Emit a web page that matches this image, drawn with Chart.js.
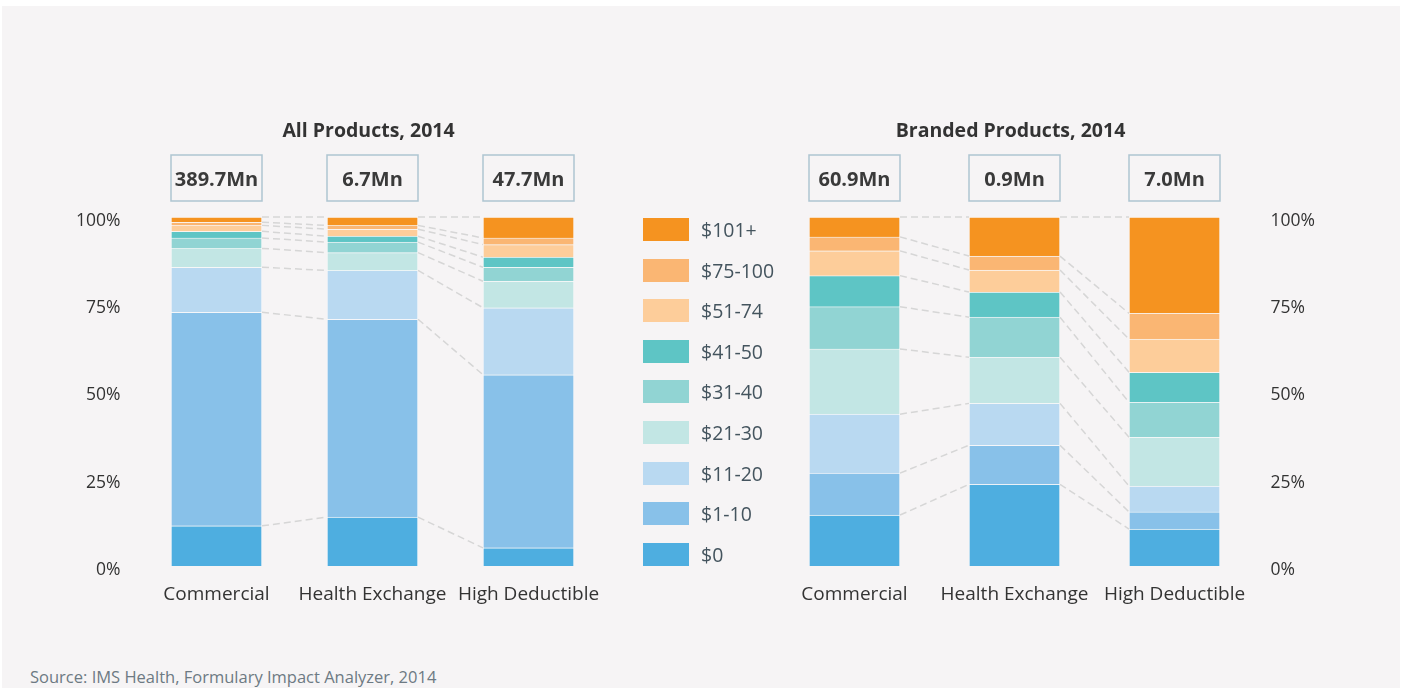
<!DOCTYPE html>
<html lang="en">
<head>
  <meta charset="UTF-8">
  <title>Out-of-pocket cost bands, 2014</title>
  <script src="https://cdn.jsdelivr.net/npm/chart.js"></script>
  <style>
    body { margin: 0; background: #fff; font-family: "Open Sans", sans-serif; }
    #panel { position: absolute; left: 2px; top: 6px; width: 1398px; height: 682px; background: #f6f4f5; }
    .wrap { position: absolute; top: 0; }
    #legend { position: absolute; left: 643px; top: 218px; }
    .item { display: flex; align-items: center; height: 23px; margin-bottom: 17.6px; }
    .sw { width: 46px; height: 23px; margin-right: 12px; }
    .lb { font-size: 19.5px; color: #44545e; }
    #source { position: absolute; left: 30px; top: 665px; font-size: 16.5px; color: #6d7a83; }
  </style>
</head>
<body>
  <div id="panel"></div>
  <div class="wrap" style="left:0;"><canvas id="allChart" width="620" height="640"></canvas></div>
  <div class="wrap" style="left:760px;"><canvas id="brandedChart" width="643" height="640"></canvas></div>
  <div id="legend"></div>
  <div id="source">Source: IMS Health, Formulary Impact Analyzer, 2014</div>

  <script>
    const FONT = '"Open Sans", sans-serif';

    // price bands, bottom of the stack first
    const bands = ['$0', '$1-10', '$11-20', '$21-30', '$31-40', '$41-50', '$51-74', '$75-100', '$101+'];
    const bandColors = ['#4eaee0', '#88c1e9', '#b9d9f1', '#c2e6e4', '#91d4d3', '#5ec5c5', '#fdcd9a', '#fab673', '#f59320'];
    const planTypes = ['Commercial', 'Health Exchange', 'High Deductible'];

    // share of prescriptions (%) per band, same order as bands
    const allCommercial      = [11.5, 61.2, 12.9, 5.4, 3.0, 1.9, 1.7, 0.9, 1.5];
    const allHealthExchange  = [14.0, 56.7, 14.0, 5.1, 3.0, 1.7, 2.0, 1.1, 2.4];
    const allHighDeductible  = [5.2, 49.6, 19.2, 7.6, 4.0, 2.9, 3.6, 1.9, 6.0];
    const brandedCommercial     = [14.6, 12.0, 16.9, 18.7, 12.1, 8.9, 7.1, 4.0, 5.7];
    const brandedHealthExchange = [23.4, 11.2, 12.0, 13.2, 11.5, 7.2, 6.3, 4.0, 11.2];
    const brandedHighDeductible = [10.6, 4.9, 7.4, 14.0, 10.0, 8.6, 9.5, 7.4, 27.6];

    const allTotals = ['389.7Mn', '6.7Mn', '47.7Mn'];
    const brandedTotals = ['60.9Mn', '0.9Mn', '7.0Mn'];
    const yTicks = [0, 25, 50, 75, 100];

    // legend, top band first
    const legend = document.getElementById('legend');
    for (let i = bands.length - 1; i >= 0; i--) {
      legend.insertAdjacentHTML('beforeend',
        `<div class="item"><div class="sw" style="background:${bandColors[i]}"></div><div class="lb">${bands[i]}</div></div>`);
    }

    function buildDatasets(cols) {
      return bands.map((b, i) => ({
        label: b,
        data: cols.map(c => c[i]),
        backgroundColor: bandColors[i],
        borderColor: 'rgba(255,255,255,0.35)',
        borderWidth: 1,
        barThickness: 91
      }));
    }

    // dashed connectors, title and total boxes
    const extras = {
      id: 'extras',
      afterDatasetsDraw(chart, args, opts) {
        const ctx = chart.ctx;
        const metas = chart.data.datasets.map((d, i) => chart.getDatasetMeta(i));
        ctx.save();
        ctx.strokeStyle = '#d6d6d6';
        ctx.lineWidth = 1.5;
        ctx.setLineDash([7, 4]);
        for (let i = 0; i < planTypes.length - 1; i++) {
          metas.forEach(m => {
            const a = m.data[i], b = m.data[i + 1];
            ctx.beginPath();
            ctx.moveTo(a.x + a.width / 2, a.y);
            ctx.lineTo(b.x - b.width / 2, b.y);
            ctx.stroke();
          });
        }
        ctx.setLineDash([]);

        const top = chart.chartArea.top;
        const first = metas[0].data[0], last = metas[0].data[planTypes.length - 1];
        ctx.fillStyle = '#333';
        ctx.font = 'bold 19.5px ' + FONT;
        ctx.textAlign = 'center';
        ctx.textBaseline = 'middle';
        ctx.fillText(opts.title, (first.x + last.x) / 2 - 4, top - 86);

        ctx.strokeStyle = '#aec5d1';
        ctx.lineWidth = 1.5;
        ctx.font = 'bold 20px ' + FONT;
        metas[0].data.forEach((el, i) => {
          ctx.strokeRect(el.x - el.width / 2, top - 62, el.width, 46);
          ctx.fillStyle = '#3a3a3a';
          ctx.fillText(opts.totals[i], el.x, top - 37);
        });
        ctx.restore();
      }
    };

    function makeChart(id, cols, title, totals, side, pad) {
      return new Chart(document.getElementById(id), {
        type: 'bar',
        data: { labels: planTypes, datasets: buildDatasets(cols) },
        options: {
          responsive: false,
          animation: false,
          layout: { padding: pad },
          plugins: {
            legend: { display: false },
            tooltip: { enabled: false },
            extras: { title: title, totals: totals }
          },
          scales: {
            x: {
              stacked: true,
              grid: { display: false, drawTicks: false },
              border: { display: false },
              ticks: { padding: 17, color: '#333', font: { size: 19, family: FONT } },
              afterFit: s => { s.height = 74; }
            },
            y: {
              stacked: true,
              position: side,
              min: 0,
              max: 100,
              grid: { display: false, drawTicks: false },
              border: { display: false },
              afterBuildTicks: s => { s.ticks = yTicks.map(v => ({ value: v })); },
              ticks: {
                padding: side === 'left' ? 18 : 16,
                labelOffset: 4,
                color: '#333',
                font: { size: 17.5, family: FONT },
                callback: v => v + '%'
              },
              afterFit: s => { s.width = side === 'left' ? 138.5 : 148.5; }
            }
          }
        },
        plugins: [extras]
      });
    }

    makeChart('allChart', [allCommercial, allHealthExchange, allHighDeductible],
      'All Products, 2014', allTotals, 'left', { top: 217, right: 13.5, left: 0, bottom: 0 });
    makeChart('brandedChart', [brandedCommercial, brandedHealthExchange, brandedHighDeductible],
      'Branded Products, 2014', brandedTotals, 'right', { top: 217, right: 0, left: 14.5, bottom: 0 });
  </script>
</body>
</html>
